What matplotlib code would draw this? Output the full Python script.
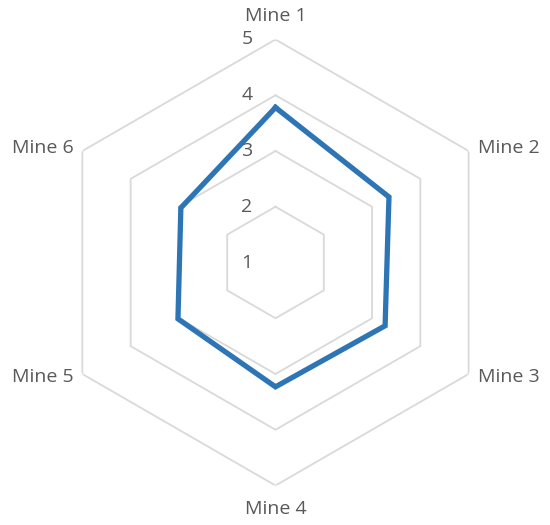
import numpy as np
import matplotlib
matplotlib.use("Agg")
import matplotlib.pyplot as plt

categories = ["Mine 1", "Mine 2", "Mine 3", "Mine 4", "Mine 5", "Mine 6"]
values = [3.78, 3.35, 3.27, 3.23, 3.02, 2.96]
levels = [1, 2, 3, 4, 5]

plt.rcParams["font.family"] = ["Open Sans", "DejaVu Sans"]
text_color = "#595959"
grid_color = "#D9D9D9"
line_color = "#2E75B6"

fig = plt.figure(figsize=(5.5, 5.25), dpi=100)
ax = fig.add_axes([0.0954, 0.0752, 0.811, 0.8496], projection="polar")
ax.set_theta_offset(np.pi / 2)
ax.set_theta_direction(-1)
ax.set_ylim(levels[0], levels[-1])
ax.grid(False)
ax.spines["polar"].set_visible(False)
ax.set_xticks([])
ax.set_yticks([])
ax.patch.set_visible(False)

n = len(categories)
angles = np.arange(n) * 2 * np.pi / n
closed = np.append(angles, angles[0])

# hexagon gridlines
for lv in levels[1:]:
    ax.plot(closed, [lv] * (n + 1), color=grid_color, lw=1.3, zorder=1)

# data line
ax.plot(closed, values + values[:1], color=line_color, lw=3.8,
        solid_joinstyle="miter", zorder=3)

# scale labels along the top axis
for lv in levels:
    ax.annotate(str(lv), xy=(0, lv), xytext=(-23, 0), textcoords="offset pixels",
                ha="right", va="center", fontsize=14, color=text_color)

# category labels
offsets = [((0, 14), "center", "bottom"),
           ((9, 3), "left", "center"),
           ((9, -3), "left", "center"),
           ((0, -14), "center", "top"),
           ((-9, -3), "right", "center"),
           ((-9, 3), "right", "center")]
for ang, name, (off, ha, va) in zip(angles, categories, offsets):
    ax.annotate(name, xy=(ang, levels[-1]), xytext=off, textcoords="offset pixels",
                ha=ha, va=va, fontsize=14, color=text_color)

fig.savefig("out.png", dpi=100, facecolor="white")
